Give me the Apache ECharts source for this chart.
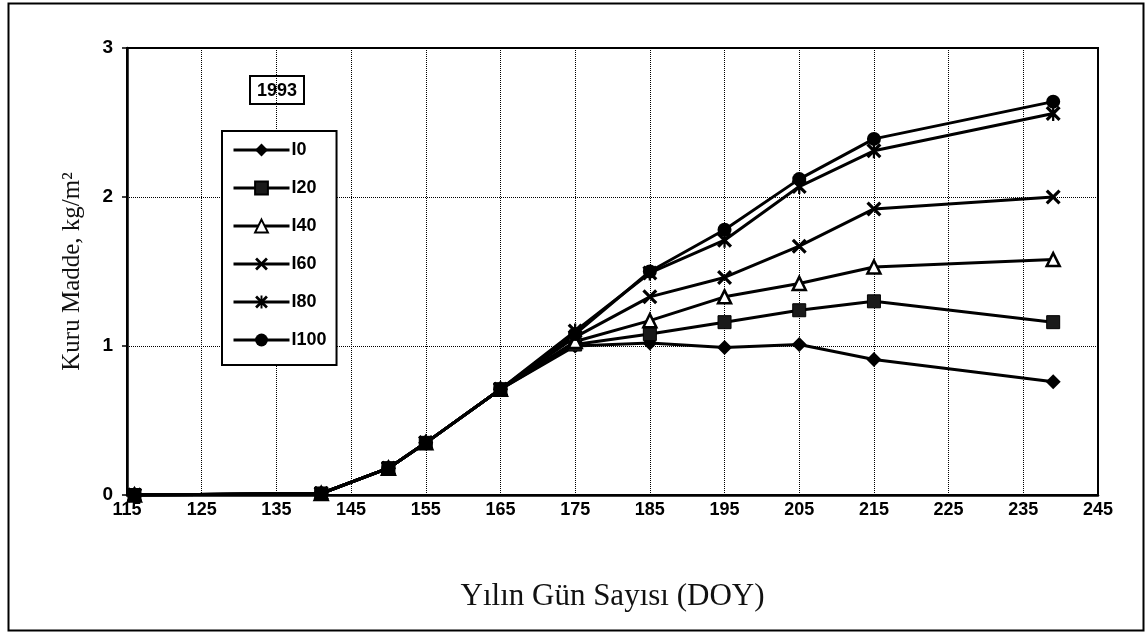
<!DOCTYPE html>
<html>
<head>
<meta charset="utf-8">
<script src="https://cdn.jsdelivr.net/npm/echarts@6/dist/echarts.min.js"></script>
<style>
html,body{margin:0;padding:0;background:#fff;}
#chart{width:1148px;height:632px;}
</style>
</head>
<body>
<div id="chart"></div>
<script>
// Data
const doy = [116, 141, 150, 155, 165, 175, 185, 195, 205, 215, 239];
const I0   = [0, 0.01, 0.18, 0.35, 0.71, 1.00, 1.02, 0.99, 1.01, 0.91, 0.76];
const I20  = [0, 0.01, 0.18, 0.35, 0.71, 1.01, 1.08, 1.16, 1.24, 1.30, 1.16];
const I40  = [0, 0.01, 0.18, 0.35, 0.71, 1.03, 1.17, 1.33, 1.42, 1.53, 1.58];
const I60  = [0, 0.01, 0.18, 0.35, 0.71, 1.06, 1.33, 1.46, 1.67, 1.92, 2.00];
const I80  = [0, 0.01, 0.18, 0.35, 0.71, 1.10, 1.49, 1.71, 2.07, 2.31, 2.56];
const I100 = [0, 0.01, 0.18, 0.35, 0.71, 1.08, 1.50, 1.78, 2.12, 2.39, 2.64];
const seriesNames = ['I0', 'I20', 'I40', 'I60', 'I80', 'I100'];
const yearLabel = '1993';
const xTitle = 'Yılın Gün Sayısı (DOY)';
const yTitle = 'Kuru Madde, kg/m²';

const pairs = (ys) => doy.map((x, i) => [x, ys[i]]);

const crossPath = 'path://M0,3 L3,0 L10,7 L17,0 L20,3 L13,10 L20,17 L17,20 L10,13 L3,20 L0,17 L7,10 Z';
const starPath = 'path://M0,3 L3,0 L10,7 L17,0 L20,3 L13,10 L20,17 L17,20 L10,13 L3,20 L0,17 L7,10 Z M8.5,0 L11.5,0 L11.5,20 L8.5,20 Z';

const styles = [
  {symbol: 'diamond', size: 15, item: {color: '#000'}},
  {symbol: 'rect', size: 13, item: {color: '#1a1a1a', borderColor: '#000', borderWidth: 1}},
  {symbol: 'triangle', size: 13, item: {color: '#fff', borderColor: '#000', borderWidth: 2.5}},
  {symbol: crossPath, size: 15, item: {color: '#000'}},
  {symbol: starPath, size: 15, item: {color: '#000'}},
  {symbol: 'circle', size: 14, item: {color: '#000'}}
];
const allData = [I0, I20, I40, I60, I80, I100];

const series = seriesNames.map((name, k) => ({
  name: name,
  type: 'line',
  data: pairs(allData[k]),
  symbol: styles[k].symbol,
  symbolSize: styles[k].size,
  showAllSymbol: true,
  lineStyle: {color: '#000', width: 3},
  itemStyle: styles[k].item,
  emphasis: {disabled: true},
  animation: false,
  z: 3
}));

const chart = echarts.init(document.getElementById('chart'));
chart.setOption({
  backgroundColor: '#fff',
  animation: false,
  grid: {left: 127, right: 50, top: 48, bottom: 137, show: true, borderColor: '#000', borderWidth: 2, backgroundColor: 'transparent'},
  xAxis: {
    type: 'value', min: 115, max: 245, interval: 10,
    name: xTitle, nameLocation: 'middle', nameGap: 86,
    nameTextStyle: {fontFamily: 'Liberation Serif', fontSize: 31, color: '#111'},
    axisLine: {show: true, lineStyle: {color: '#000', width: 2.5}},
    axisTick: {show: false},
    axisLabel: {fontFamily: 'Liberation Sans', fontWeight: 'bold', fontSize: 18, color: '#000', margin: 6},
    splitLine: {show: true, lineStyle: {color: '#000', type: 'dotted', width: 1}}
  },
  yAxis: {
    type: 'value', min: 0, max: 3, interval: 1,
    name: yTitle, nameLocation: 'middle', nameGap: 42,
    nameTextStyle: {fontFamily: 'Liberation Serif', fontSize: 25, color: '#111'},
    axisLine: {show: true, lineStyle: {color: '#000', width: 2.5}},
    axisTick: {show: true, inside: false, length: 5, lineStyle: {color: '#000', width: 1.5}},
    axisLabel: {fontFamily: 'Liberation Sans', fontWeight: 'bold', fontSize: 19, color: '#000', margin: 14},
    splitLine: {show: true, lineStyle: {color: '#000', type: 'dotted', width: 1}}
  },
  legend: {
    data: seriesNames,
    orient: 'vertical',
    left: 222, top: 131,
    itemWidth: 56, itemHeight: 16, itemGap: 20,
    padding: [10, 10, 16, 10],
    backgroundColor: '#fff',
    borderColor: '#000', borderWidth: 2,
    lineStyle: {color: '#000', width: 3},
    textStyle: {fontFamily: 'Liberation Sans', fontWeight: 'bold', fontSize: 18, color: '#000', padding: [0, 0, 0, -3]},
    selectedMode: false,
    z: 10
  },
  graphic: [
    {type: 'rect', left: 6, top: 1, shape: {width: 1135, height: 627}, style: {fill: 'none', stroke: '#000', lineWidth: 2}, z: 100, silent: true},
    {type: 'group', left: 249, top: 75, z: 100, children: [
      {type: 'rect', shape: {x: 0, y: 0, width: 54, height: 28}, style: {fill: '#fff', stroke: '#000', lineWidth: 2}},
      {type: 'text', x: 27, y: 15, style: {text: yearLabel, fill: '#000', font: 'bold 18px "Liberation Sans"', align: 'center', verticalAlign: 'middle'}}
    ]}
  ],
  series: series
});
</script>
</body>
</html>
